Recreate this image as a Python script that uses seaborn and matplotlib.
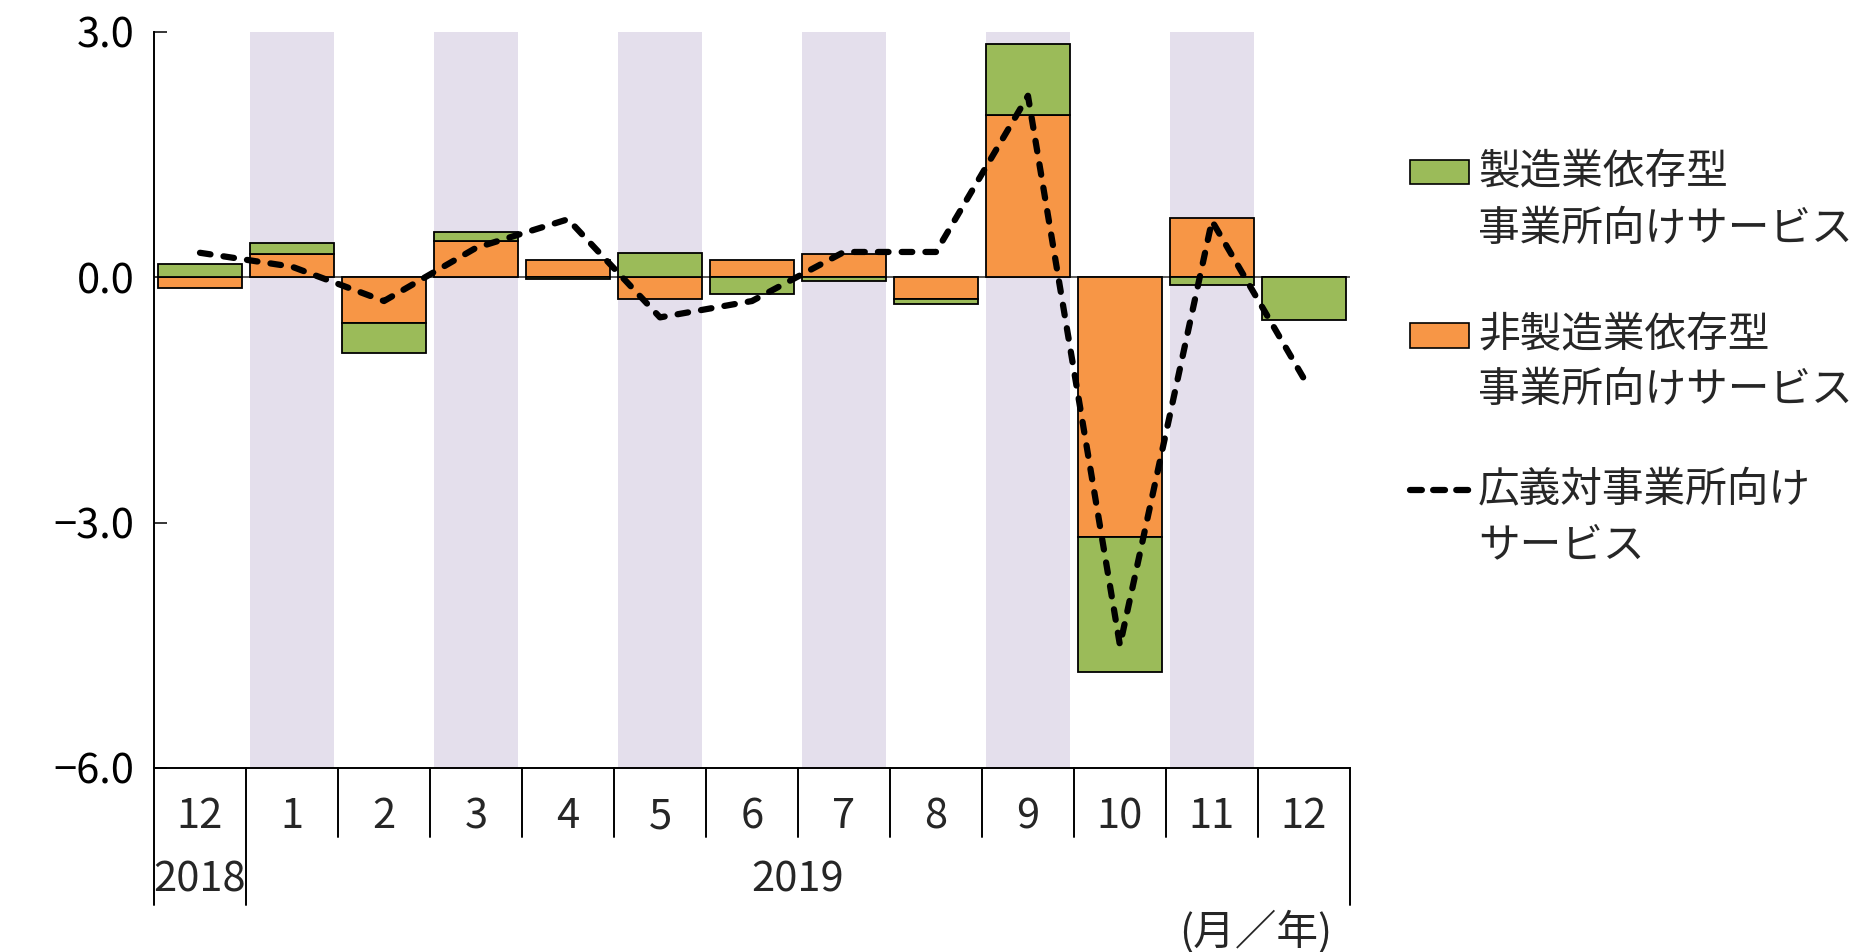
import numpy as np
import pandas as pd
import matplotlib
matplotlib.use("Agg")
import matplotlib.pyplot as plt
import matplotlib.transforms as mtransforms
from matplotlib.patches import Rectangle
from matplotlib.lines import Line2D
from matplotlib.ticker import FuncFormatter
import seaborn as sns

# ---- data -------------------------------------------------------------
months = ["12", "1", "2", "3", "4", "5", "6", "7", "8", "9", "10", "11", "12"]
years = ["2018", "2019"]
year_first_idx = [0, 1]
year_last_idx = [0, 12]

# contributions (percentage points)
non_mfg = [-0.13, 0.29, -0.56, 0.44, 0.21, -0.27, 0.21, 0.29, -0.27, 1.98, -3.18, 0.73, 0.00]
mfg = [0.16, 0.13, -0.36, 0.11, -0.02, 0.30, -0.21, -0.05, -0.06, 0.87, -1.65, -0.09, -0.52]
broad = [0.30, 0.13, -0.29, 0.36, 0.71, -0.49, -0.29, 0.31, 0.31, 2.22, -4.50, 0.69, -1.24]

shaded_months = [1, 3, 5, 7, 9, 11]
y_ticks = [-6.0, -3.0, 0.0, 3.0]

legend_labels = [
    ("製造業依存型", "事業所向けサービス"),
    ("非製造業依存型", "事業所向けサービス"),
    ("広義対事業所向け", "サービス"),
]
unit_label = "(月／年)"

GREEN = "#9BBB59"
ORANGE = "#F79646"
BAND = "#E4DFEC"

# ---- style ------------------------------------------------------------
sns.set_theme(style="white")
plt.rcParams["font.family"] = ["Noto Sans CJK JP", "DejaVu Sans"]
FS = 30
LW = 4.5
LINE_DASH = (0, (1.7, 2.1))
KEY_DASH = (0, (1.9, 1.8))

fig = plt.figure(figsize=(18.62, 9.52), dpi=100)
ax = fig.add_axes([0.0827, 0.1933, 0.6423, 0.7731])

n = len(months)
pos = np.arange(n)
df = pd.DataFrame({"pos": pos, "non_mfg": non_mfg, "mfg": mfg, "broad": broad})

# alternating background bands
for i in shaded_months:
    ax.axvspan(i - 0.455, i + 0.455, color=BAND, lw=0, zorder=0)

ax.axhline(0, color="#404040", lw=1.2, zorder=1)

# non-manufacturing contribution (base of the stack)
sns.barplot(data=df, x="pos", y="non_mfg", color=ORANGE, saturation=1,
            width=0.91, edgecolor="black", linewidth=1.3, errorbar=None,
            ax=ax, zorder=2)

# manufacturing contribution stacked on same-sign values
mfg_arr = np.array(mfg)
base = np.where(np.sign(mfg_arr) == np.sign(non_mfg), non_mfg, 0.0)
ax.bar(pos, mfg_arr, bottom=base, width=0.91, color=GREEN,
       edgecolor="black", linewidth=1.3, zorder=2)

# broad index
sns.lineplot(data=df, x="pos", y="broad", color="black", lw=LW,
             linestyle=LINE_DASH, dash_capstyle="round", ax=ax, zorder=3)

# ---- axes -------------------------------------------------------------
ax.set_xlim(-0.5, n - 0.5)
ax.set_ylim(-6, 3)
ax.set_yticks(y_ticks)
ax.yaxis.set_major_formatter(FuncFormatter(lambda v, p: f"{v:.1f}".replace("-", "\u2212")))
ax.tick_params(axis="y", direction="in", length=9, width=1.1, pad=14,
               labelsize=FS, colors="black", left=True)
ax.set_xticks([])
ax.set_xlabel("")
ax.set_ylabel("")
for s in ["top", "right"]:
    ax.spines[s].set_visible(False)
for s in ["left", "bottom"]:
    ax.spines[s].set_color("black")
    ax.spines[s].set_linewidth(1.4)

# category table below the plot
trans = mtransforms.blended_transform_factory(ax.transData, ax.transAxes)
short_y, long_y = -0.094, -0.186
long_edges = {-0.5, n - 0.5} | {year_first_idx[k] - 0.5 for k in range(len(years))}
for k in range(n + 1):
    xe = k - 0.5
    yb = long_y if xe in long_edges else short_y
    ax.plot([xe, xe], [0, yb], color="black", lw=1.4, transform=trans,
            clip_on=False, zorder=5)

for i, m in enumerate(months):
    ax.text(i, -0.066, m, transform=trans, ha="center", va="center", fontsize=FS)
for yr, a, b in zip(years, year_first_idx, year_last_idx):
    ax.text((a + b) / 2, -0.152, yr, transform=trans, ha="center", va="center",
            fontsize=FS)
ax.text(0.985, -0.223, unit_label, transform=ax.transAxes, ha="right",
        va="center", fontsize=FS)

# ---- legend -----------------------------------------------------------
W, H = 1862.0, 952.0
def fx(px):
    return px / W
def fy(py):
    return 1 - py / H

hx0, hx1, tx = 1410, 1469, 1478
entries = [
    ("patch", GREEN, 160, 184, 173, 229),
    ("patch", ORANGE, 323, 348, 336, 390),
    ("line", "black", 490, 490, 490, 546),
]
for (kind, col, y0, y1, t1, t2), (l1, l2) in zip(entries, legend_labels):
    if kind == "patch":
        fig.add_artist(Rectangle((fx(hx0), fy(y1)), fx(hx1) - fx(hx0), fy(y0) - fy(y1),
                                 facecolor=col, edgecolor="black", lw=1.2,
                                 transform=fig.transFigure))
    else:
        fig.add_artist(Line2D([fx(hx0), fx(hx1)], [fy(y0), fy(y0)], color=col,
                              lw=LW, linestyle=KEY_DASH, dash_capstyle="round",
                              transform=fig.transFigure))
    fig.text(fx(tx), fy(t1), l1, ha="left", va="center", fontsize=FS)
    fig.text(fx(tx), fy(t2), l2, ha="left", va="center", fontsize=FS)

fig.savefig("out.png", dpi=100)
